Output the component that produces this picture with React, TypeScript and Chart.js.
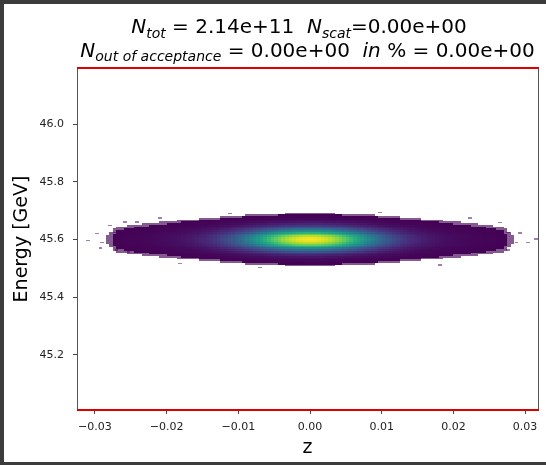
import React, { useEffect, useRef } from 'react';
import { Chart, registerables } from 'chart.js';
Chart.register(...registerables);

// ---- data ----
// z bins: first centre and width
const zFirstCentre = -0.02825;
const zBinWidth = 0.0005;
// relative counts per z bin (marginal profile, peak = 1), z = -0.02825 ... +0.02825
const zProfile = [
  0.0019, 0.0030, 0.0050,
  0.0079, 0.0088, 0.0098, 0.0110, 0.0122, 0.0136,
  0.0151, 0.0168, 0.0187, 0.0208, 0.0230, 0.0256, 0.0285, 0.0317, 0.0352, 0.0393,
  0.0439, 0.0490, 0.0549, 0.0616, 0.0692, 0.0778, 0.0876, 0.0986, 0.111, 0.125,
  0.141, 0.159, 0.179, 0.201, 0.226, 0.253, 0.282, 0.314, 0.348, 0.385,
  0.423, 0.464, 0.506, 0.550, 0.594, 0.639, 0.684, 0.728, 0.771, 0.811,
  0.850, 0.885, 0.916, 0.943, 0.965, 0.982, 0.994, 0.999,
  0.999, 0.994, 0.982, 0.965, 0.943, 0.916, 0.885, 0.850,
  0.811, 0.771, 0.728, 0.684, 0.639, 0.594, 0.550, 0.506, 0.464, 0.423,
  0.385, 0.348, 0.314, 0.282, 0.253, 0.226, 0.201, 0.179, 0.159, 0.141,
  0.125, 0.111, 0.0986, 0.0876, 0.0778, 0.0692, 0.0616, 0.0549, 0.0490, 0.0439,
  0.0393, 0.0352, 0.0317, 0.0285, 0.0256, 0.0230, 0.0208, 0.0187, 0.0168, 0.0151,
  0.0136, 0.0122, 0.0110, 0.0098, 0.0088, 0.0079,
  0.0050, 0.0030, 0.0019,
];
// energy bins: first centre and width
const eFirstCentre = 45.504;
const eBinWidth = 0.006;
// relative counts per energy bin (marginal profile, peak = 1)
const eProfile = [
  0.00083, 0.00197, 0.0044, 0.0093, 0.0185, 0.0351, 0.0627, 0.106,
  0.17, 0.257, 0.369, 0.5, 0.642, 0.779, 0.895, 0.973,
  1.0,
  0.973, 0.895, 0.779, 0.642, 0.5, 0.369, 0.257, 0.17,
  0.106, 0.0627, 0.0351, 0.0185, 0.0093, 0.0044, 0.00197, 0.00083,
];
// isolated, barely filled bins around the edge of the bunch: [z, E]
const sparseBins = [
  [-0.0310, 45.597], [-0.0297, 45.621], [-0.0292, 45.572], [-0.0290, 45.590],
  [-0.0279, 45.649], [-0.0272, 45.625], [-0.0270, 45.565], [-0.0258, 45.662],
  [-0.0253, 45.558], [-0.0241, 45.662], [-0.0209, 45.676], [-0.0181, 45.517],
  [-0.0112, 45.690], [-0.0070, 45.503], [0.0098, 45.694], [0.0181, 45.513],
  [0.0223, 45.676], [0.0265, 45.659], [0.0276, 45.625], [0.0276, 45.565],
  [0.0288, 45.590], [0.0293, 45.624], [0.0304, 45.590], [0.0315, 45.603],
];
const minCount = 0.0017; // bins below this are empty (white)

const xRange = [-0.0325, 0.0318];
const yRange = [45.009, 46.195];
const xTickValues = [-0.03, -0.02, -0.01, 0.0, 0.01, 0.02, 0.03];
const xTickLabels = ['\u22120.03', '\u22120.02', '\u22120.01', '0.00', '0.01', '0.02', '0.03'];
const yTickValues = [45.2, 45.4, 45.6, 45.8, 46.0];
const yTickLabels = ['45.2', '45.4', '45.6', '45.8', '46.0'];

const titleLine1 = [
  { t: 'N', it: true }, { t: 'tot', it: true, sub: true }, { t: ' = 2.14e+11  ' },
  { t: 'N', it: true }, { t: 'scat', it: true, sub: true }, { t: '=0.00e+00' },
];
const titleLine2 = [
  { t: 'N', it: true }, { t: 'out of acceptance', it: true, sub: true }, { t: ' = 0.00e+00  ' },
  { t: 'in', it: true }, { t: ' % = 0.00e+00' },
];

// viridis colormap stops
const viridis = ['#440154', '#482475', '#414487', '#355f8d', '#2a788e', '#21918c', '#22a884', '#44bf70', '#7ad151', '#bddf26', '#fde725'];
function hexToRgb(h: string) {
  return [parseInt(h.slice(1, 3), 16), parseInt(h.slice(3, 5), 16), parseInt(h.slice(5, 7), 16)];
}
const viridisRgb = viridis.map(hexToRgb);
function cmap(t: number) {
  const c = Math.max(0, Math.min(1, t)) * (viridisRgb.length - 1);
  const i = Math.min(viridisRgb.length - 2, Math.floor(c));
  const f = c - i;
  const a = viridisRgb[i], b = viridisRgb[i + 1];
  return [0, 1, 2].map((k) => Math.round(a[k] + (b[k] - a[k]) * f));
}

type Cell = { x: number; y: number; v: number; sparse?: boolean };
function buildCells() {
  const cells: Cell[] = [];
  zProfile.forEach((zw, i) => {
    eProfile.forEach((ew, j) => {
      const v = zw * ew;
      if (v >= minCount) cells.push({ x: zFirstCentre + i * zBinWidth, y: eFirstCentre + j * eBinWidth, v });
    });
  });
  sparseBins.forEach(([z, e]) => cells.push({ x: z, y: e, v: minCount, sparse: true }));
  return cells;
}

const heatmapPlugin = {
  id: 'heatmap',
  beforeDatasetsDraw(chart: any) {
    const { ctx, chartArea, scales } = chart;
    const xs = scales.x, ys = scales.y;
    const data = chart.data.datasets[0].data as Cell[];
    ctx.save();
    ctx.beginPath();
    ctx.rect(chartArea.left, chartArea.top, chartArea.right - chartArea.left, chartArea.bottom - chartArea.top);
    ctx.clip();
    for (const c of data) {
      const x0 = Math.round(xs.getPixelForValue(c.x - zBinWidth / 2));
      const x1 = Math.round(xs.getPixelForValue(c.x + zBinWidth / 2));
      const y0 = Math.round(ys.getPixelForValue(c.y + eBinWidth / 2));
      const y1 = Math.round(ys.getPixelForValue(c.y - eBinWidth / 2));
      const t = (c.v - minCount) / (1 - minCount);
      const [r, g, b] = cmap(t);
      const alpha = c.sparse ? 0.5 : c.v < minCount * 2 ? 0.65 : 1;
      ctx.fillStyle = `rgba(${r},${g},${b},${alpha})`;
      ctx.fillRect(x0, y0, Math.max(1, x1 - x0), Math.max(1, y1 - y0));
    }
    ctx.restore();
  },
};

function drawLine(ctx: CanvasRenderingContext2D, segs: any[], cx: number, baseY: number) {
  const mainFont = '20px "DejaVu Sans"';
  const itFont = 'italic 20px "DejaVu Sans"';
  const subFont = 'italic 14px "DejaVu Sans"';
  const fontOf = (s: any) => (s.sub ? subFont : s.it ? itFont : mainFont);
  let total = 0;
  const widths = segs.map((s) => {
    ctx.font = fontOf(s);
    const w = ctx.measureText(s.t).width;
    total += w;
    return w;
  });
  let x = cx - total / 2;
  segs.forEach((s, i) => {
    ctx.font = fontOf(s);
    ctx.fillText(s.t, x, baseY + (s.sub ? 4.5 : 0));
    x += widths[i];
  });
}

const framePlugin = {
  id: 'frame',
  afterDraw(chart: any) {
    const { ctx, chartArea } = chart;
    ctx.save();
    ctx.strokeStyle = '#555';
    ctx.lineWidth = 1;
    ctx.beginPath();
    ctx.moveTo(chartArea.right + 0.5, chartArea.top);
    ctx.lineTo(chartArea.right + 0.5, chartArea.bottom);
    ctx.stroke();
    ctx.strokeStyle = '#e00000';
    ctx.lineWidth = 2;
    ctx.beginPath();
    ctx.moveTo(chartArea.left, chartArea.top);
    ctx.lineTo(chartArea.right + 1, chartArea.top);
    ctx.moveTo(chartArea.left, chartArea.bottom);
    ctx.lineTo(chartArea.right + 1, chartArea.bottom);
    ctx.stroke();
    ctx.fillStyle = '#000';
    ctx.textBaseline = 'alphabetic';
    ctx.textAlign = 'left';
    drawLine(ctx, titleLine1, 295, 29);
    drawLine(ctx, titleLine2, 303.5, 52.5);
    ctx.restore();
  },
};

export default function App() {
  const ref = useRef<HTMLCanvasElement>(null);
  useEffect(() => {
    document.body.style.margin = '0';
    document.documentElement.style.overflow = 'hidden';
    document.body.style.overflow = 'hidden';
    if (!ref.current) return;
    const chart = new Chart(ref.current, {
      type: 'scatter',
      data: {
        datasets: [{ data: buildCells() as any, pointRadius: 0, pointHoverRadius: 0, showLine: false }],
      },
      options: {
        animation: false,
        responsive: false,
        devicePixelRatio: 1,
        events: [],
        layout: { padding: { top: 64, right: 8, left: 0, bottom: 0 } },
        plugins: { legend: { display: false }, tooltip: { enabled: false }, title: { display: false } },
        scales: {
          x: {
            type: 'linear',
            min: xRange[0],
            max: xRange[1],
            afterBuildTicks: (s: any) => { s.ticks = xTickValues.map((v) => ({ value: v })); },
            afterFit: (s: any) => { s.height = 52; },
            ticks: {
              callback: (_v: any, i: number) => xTickLabels[i],
              font: { family: 'DejaVu Sans', size: 11 },
              color: '#222',
              padding: 7,
              maxRotation: 0,
              autoSkip: false,
            },
            grid: { drawOnChartArea: false, drawTicks: true, tickLength: 4, tickColor: '#444' },
            border: { display: true, color: '#555' },
            title: { display: true, text: 'z', font: { family: 'DejaVu Sans', size: 19 }, color: '#000', padding: { top: 0, bottom: 3 } },
          },
          y: {
            type: 'linear',
            min: yRange[0],
            max: yRange[1],
            afterBuildTicks: (s: any) => { s.ticks = yTickValues.map((v) => ({ value: v })); },
            afterFit: (s: any) => { s.width = 73; },
            ticks: {
              callback: (_v: any, i: number) => yTickLabels[i],
              font: { family: 'DejaVu Sans', size: 11 },
              color: '#222',
              padding: 9,
              autoSkip: false,
            },
            grid: { drawOnChartArea: false, drawTicks: true, tickLength: 4, tickColor: '#444' },
            border: { display: true, color: '#555' },
            title: { display: true, text: 'Energy [GeV]', font: { family: 'DejaVu Sans', size: 19 }, color: '#000', padding: { top: 7, bottom: 0 } },
          },
        },
      },
      plugins: [heatmapPlugin, framePlugin],
    });
    return () => chart.destroy();
  }, []);
  return (
    <div style={{ position: 'fixed', left: 0, top: 0, width: 700, height: 465, background: '#3c3c3c', overflow: 'hidden' }}>
      <div style={{ position: 'absolute', left: 4, top: 4, width: 690, height: 458, background: '#fff' }}>
        <canvas ref={ref} width={542} height={458} style={{ display: 'block', width: 542, height: 458 }} />
      </div>
    </div>
  );
}
